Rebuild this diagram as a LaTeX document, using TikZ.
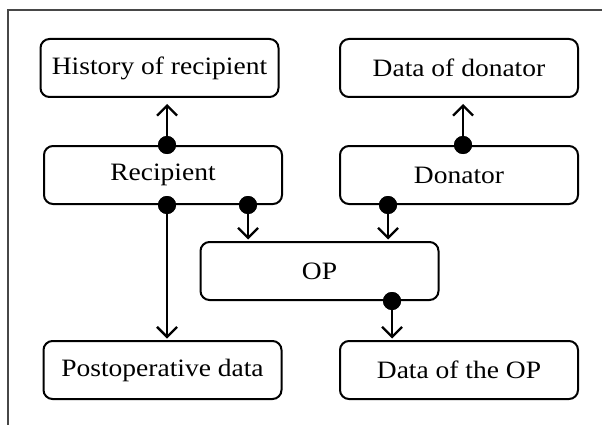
\documentclass[tikz,border=0pt]{standalone}
\usepackage{fontspec}
\setmainfont{Liberation Serif}[FakeStretch=1.1]
\usetikzlibrary{arrows.meta,calc}

\tikzset{
  box/.style={draw, line width=2pt, rounded corners=9pt, minimum width=238pt,
              minimum height=58pt, inner sep=0pt, font=\fontsize{25}{29}\selectfont},
  dot/.style={circle, fill=black, draw=none, minimum size=18pt, inner sep=0pt},
  arr/.style={line width=2.3pt, -{Straight Barb[length=10pt, width=20pt, line width=2.3pt]}},
  frame/.style={draw=black!72, line width=2.4pt}
}

\begin{document}
\begin{tikzpicture}[x=1pt, y=-1pt]
  \useasboundingbox (0,0) rectangle (602,425);

  % open frame: top and left edges only
  \draw[frame] (602,10) -- (8,10) -- (8,425);

  % boxes
  \node[box] (hist) at (159.5,68)  {History of recipient};
  \node[box] (rec)  at (163,175)   {Recipient};
  \node[box] (ddon) at (459,68)    {Data of donator};
  \node[box] (don)  at (459,175)   {Donator};
  \node[box] (op)   at (319.5,271) {OP};
  \node[box] (post) at (162.5,370) {Postoperative data};
  \node[box] (dop)  at (459,370)   {Data of the OP};

  % connection points
  \node[dot] (d1) at ($(rec.north)+(4,0)$) {};
  \node[dot] (d2) at ($(don.north)+(4,0)$) {};
  \node[dot] (d3) at ($(rec.south)+(4,0)$) {};
  \node[dot] (d4) at ($(rec.south)+(85,0)$) {};
  \node[dot] (d5) at ($(don.south)+(-71,0)$) {};
  \node[dot] (d6) at ($(op.south)+(72.5,0)$) {};

  % connectors
  \draw[arr, shorten >=6pt] (d1.center) -- (d1 |- hist.south);
  \draw[arr, shorten >=6pt] (d2.center) -- (d2 |- ddon.south);
  \draw[arr, shorten >=1.5pt] (d3.center) -- (d3 |- post.north);
  \draw[arr, shorten >=1.5pt] (d4.center) -- (d4 |- op.north);
  \draw[arr, shorten >=1.5pt] (d5.center) -- (d5 |- op.north);
  \draw[arr, shorten >=1.5pt] (d6.center) -- (d6 |- dop.north);

  % dots on top of the lines
  \foreach \d in {d1,d2,d3,d4,d5,d6} \fill (\d) circle (9pt);
\end{tikzpicture}
\end{document}
